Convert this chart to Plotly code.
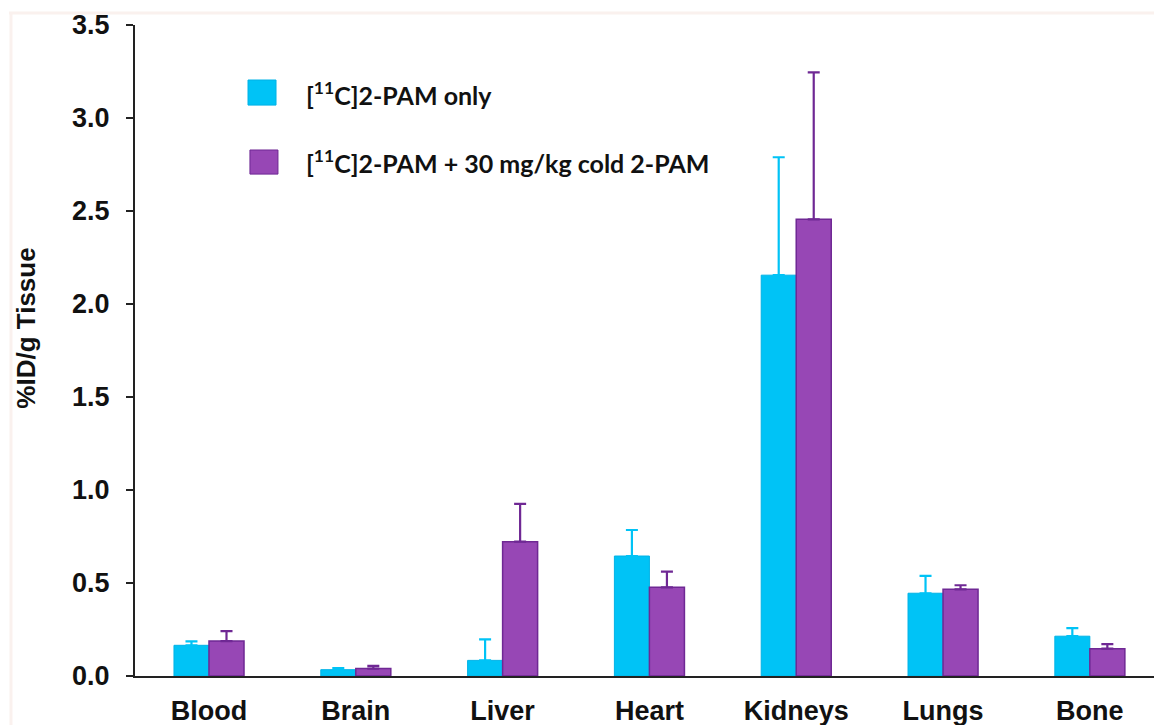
import plotly.graph_objects as go

tissues = ["Blood", "Brain", "Liver", "Heart", "Kidneys", "Lungs", "Bone"]
pam_only = [0.165, 0.034, 0.084, 0.645, 2.155, 0.445, 0.214]
pam_only_err = [0.021, 0.009, 0.113, 0.140, 0.634, 0.093, 0.043]
pam_cold = [0.188, 0.040, 0.722, 0.477, 2.455, 0.466, 0.147]
pam_cold_err = [0.053, 0.014, 0.203, 0.084, 0.790, 0.022, 0.024]
y_ticks = [0.0, 0.5, 1.0, 1.5, 2.0, 2.5, 3.0, 3.5]
legend_labels = ["[<sup>11</sup>C]2-PAM only", "[<sup>11</sup>C]2-PAM + 30 mg/kg cold 2-PAM"]
y_title = "%ID/g Tissue"

CYAN = "#00c3f6"
PURPLE = "#9747b5"
PURPLE_DARK = "#6f2894"

fig = go.Figure()
fig.add_trace(go.Bar(
    x=tissues, y=pam_only, name=legend_labels[0],
    marker=dict(color=CYAN, line=dict(color="#00b2e6", width=1)),
    error_y=dict(type="data", array=pam_only_err, symmetric=False,
                 arrayminus=[0] * len(tissues), color=CYAN, thickness=2.2, width=6),
    showlegend=False,
))
fig.add_trace(go.Bar(
    x=tissues, y=pam_cold, name=legend_labels[1],
    marker=dict(color=PURPLE, line=dict(color=PURPLE_DARK, width=1.5)),
    error_y=dict(type="data", array=pam_cold_err, symmetric=False,
                 arrayminus=[0] * len(tissues), color=PURPLE_DARK, thickness=2.2, width=6),
    showlegend=False,
))

# custom legend (squares + labels)
legend_items = [
    (CYAN, "#00b2e6", 0.1109, 0.1384, 0.877, 0.9155, 0.8955),
    (PURPLE, PURPLE_DARK, 0.1128, 0.1403, 0.771, 0.808, 0.7896),
]
for (fc, lc, x0, x1, y0, y1, ty), lab in zip(legend_items, legend_labels):
    fig.add_shape(type="rect", xref="paper", yref="paper", x0=x0, x1=x1, y0=y0, y1=y1,
                  fillcolor=fc, line=dict(color=lc, width=1))
    fig.add_annotation(xref="paper", yref="paper", x=0.1668, y=ty, text="<b>" + lab + "</b>",
                       showarrow=False, xanchor="left", yanchor="middle", borderpad=0,
                       font=dict(family="Lato", size=25, color="#111111"))

# y-axis title
fig.add_annotation(xref="paper", yref="paper", x=-0.107, y=0.535, text="<b>" + y_title + "</b>",
                   textangle=-90, showarrow=False, xanchor="center", yanchor="middle",
                   font=dict(family="Liberation Sans", size=26, color="#111111"))

# faint outer frame of the original figure
fig.add_shape(type="line", xref="paper", yref="paper", x0=-0.1237, x1=1.01, y0=1.0184, y1=1.0184,
              line=dict(color="#faf1ee", width=3))
fig.add_shape(type="line", xref="paper", yref="paper", x0=-0.1217, x1=-0.1217, y0=1.0184, y1=-0.08,
              line=dict(color="#faf1ee", width=3))

fig.update_layout(
    width=1154, height=725,
    margin=dict(l=135, r=0, t=25, b=49),
    paper_bgcolor="white", plot_bgcolor="white",
    barmode="group", bargap=0.523, bargroupgap=0,
    font=dict(family="Liberation Sans", color="#111111"),
    xaxis=dict(
        type="category", range=[-0.504, 6.437], automargin=False,
        showline=True, linecolor="#222222", linewidth=2,
        ticks="", showgrid=False, zeroline=False,
        tickfont=dict(family="Liberation Sans", size=27, weight="bold"),
        ticklabelstandoff=10,
    ),
    yaxis=dict(
        range=[0, 3.5], tickvals=y_ticks, ticktext=[f"{v:.1f}" for v in y_ticks],
        automargin=False,
        showline=True, linecolor="#222222", linewidth=2,
        ticks="outside", ticklen=7, tickwidth=2, tickcolor="#222222",
        showgrid=False, zeroline=False,
        tickfont=dict(family="Liberation Sans", size=27, weight="bold"),
        ticklabelstandoff=11,
    ),
)

fig.write_html("out.html", config={"displayModeBar": False},
               post_script="document.body.style.margin='0px';")
